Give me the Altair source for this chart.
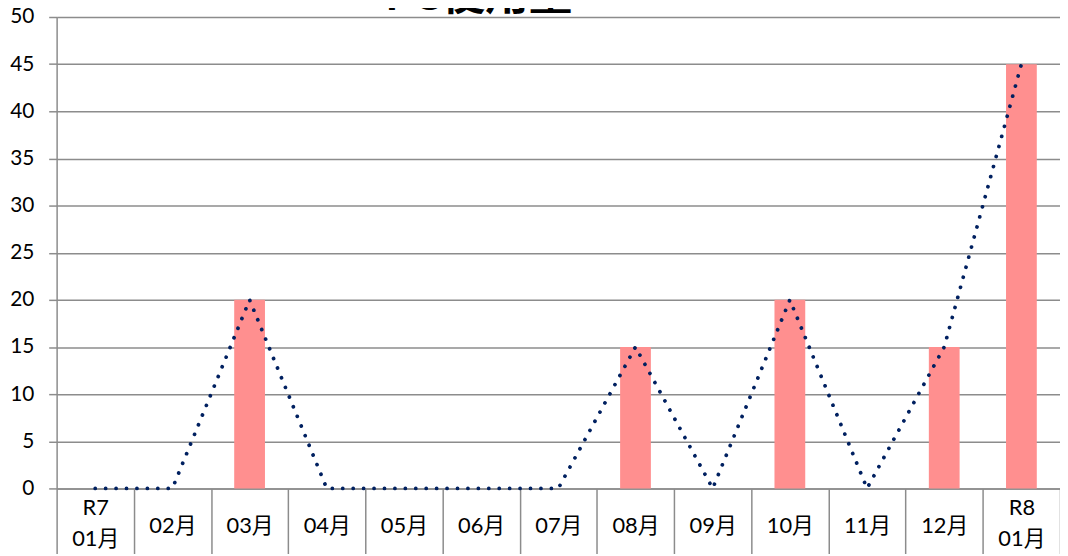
import altair as alt
import pandas as pd

months = ["R7 01月", "02月", "03月", "04月", "05月", "06月", "07月",
          "08月", "09月", "10月", "11月", "12月", "R8 01月"]
values = [0, 0, 20, 0, 0, 0, 0, 15, 0, 20, 0, 15, 45]
y_ticks = list(range(0, 51, 5))

df = pd.DataFrame({"month": months, "value": values})

FONT = "Lato, Noto Sans CJK JP, sans-serif"
GRID = "#8c8c8c"

x = alt.X(
    "month:N",
    sort=months,
    title=None,
    scale=alt.Scale(paddingInner=0, paddingOuter=0),
    axis=alt.Axis(
        labelAngle=0,
        labelExpr="split(datum.label, ' ')",
        labelFont=FONT,
        labelFontSize=22,
        labelColor="#000000",
        labelLineHeight=32,
        labelBaseline="middle",
        labelPadding={"condition": {"test": "indexof(datum.label, ' ') >= 0", "value": -47}, "value": -29},
        tickBand="extent",
        tickSize=66,
        tickColor=GRID,
        tickWidth=1.5,
        domainColor=GRID,
        domainWidth=1.5,
        grid=False,
    ),
)

y = alt.Y(
    "value:Q",
    title=None,
    scale=alt.Scale(domain=[0, 50], nice=False),
    axis=alt.Axis(
        values=y_ticks,
        labelFont=FONT,
        labelFontSize=21,
        labelColor="#000000",
        labelPadding=15,
        tickSize=8,
        tickColor=GRID,
        tickWidth=1.5,
        domainColor=GRID,
        domainWidth=1.5,
        grid=True,
        gridColor=GRID,
        gridWidth=1.5,
    ),
)

base = alt.Chart(df)

bars = base.mark_bar(color="#FF8F8F", size=31).encode(x=x, y=y)

line = base.mark_line(
    color="#002060",
    strokeWidth=3.8,
    strokeDash=[0.01, 10.5],
    strokeCap="round",
).encode(x=x, y=y)

chart = (
    alt.layer(bars, line)
    .properties(
        width=1011,
        height=475,
        title=alt.TitleParams(
            "PC使用量",
            font=FONT,
            fontSize=44,
            fontWeight="bold",
            color="#000000",
            anchor="middle",
            dx=-80,
            dy=57,
            offset=0,
            baseline="bottom",
        ),
        padding={"left": 49, "top": 7, "right": 0, "bottom": 64},
        autosize=alt.AutoSizeParams(type="none"),
    )
    .configure_view(stroke=None)
)

chart.save("out.html", embed_options={"renderer": "svg", "actions": False})
